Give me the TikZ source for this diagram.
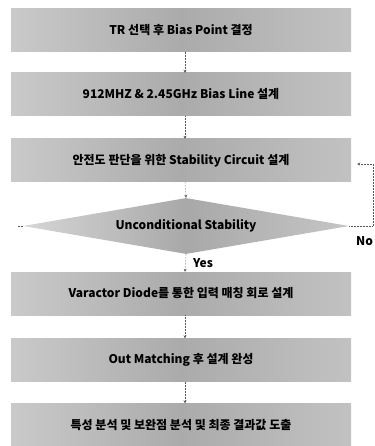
\documentclass[tikz,border=0pt]{standalone}
\usepackage{fontspec}
\setmainfont{Noto Sans CJK KR}
\usetikzlibrary{shapes.geometric,arrows.meta}
\begin{document}
\begin{tikzpicture}[x=1pt,y=-1pt,
  stepbox/.style={minimum width=340pt,minimum height=43pt,inner sep=0pt,
    left color=gray!42,right color=gray!48,middle color=gray!66,
    font=\fontsize{12}{14}\selectfont\bfseries},
  decision/.style={diamond,aspect=5.9,minimum width=326pt,minimum height=56pt,inner sep=0pt,
    left color=gray!32,right color=gray!45,middle color=gray!68,
    font=\fontsize{12}{14}\selectfont\bfseries},
  flow/.style={densely dotted,gray!70!black,line width=0.5pt,-{Stealth[length=3pt,width=3pt]}},
  lbl/.style={font=\fontsize{12}{14}\selectfont\bfseries,inner sep=0pt}]
\useasboundingbox (0,0) rectangle (374,446);
\node[stepbox] (b1) at (181,30) {TR 선택 후 Bias Point 결정};
\node[stepbox] (b2) at (181,94.5) {912MHZ \& 2.45GHz Bias Line 설계};
\node[stepbox] (b3) at (181,160.5) {안전도 판단을 위한 Stability Circuit 설계};
\node[decision] (d) at (186,226) {Unconditional Stability};
\node[stepbox] (b4) at (181,293.5) {Varactor Diode를 통한 입력 매칭 회로 설계};
\node[stepbox] (b5) at (181,360) {Out Matching 후 설계 완성};
\node[stepbox] (b6) at (181,425) {특성 분석 및 보완점 분석 및 최종 결과값 도출};
\coordinate (r1) at (373,226);
\coordinate (r2) at (373,164);
\coordinate (ll) at (18,226);
\draw[flow] ([xshift=4pt]b1.south) -- ([xshift=4pt]b2.north);
\draw[flow] ([xshift=4pt]b2.south) -- ([xshift=4pt]b3.north);
\draw[flow] ([xshift=4pt]b3.south) -- (d.north);
\draw[flow] (d.south) -- ([xshift=4pt]b4.north);
\draw[flow] ([xshift=4pt]b4.south) -- ([xshift=4pt]b5.north);
\draw[flow] ([xshift=4pt]b5.south) -- ([xshift=4pt]b6.north);
\draw[densely dotted,gray!70!black,line width=0.5pt] (d.west) -- (ll);
\draw[flow,shorten >=6pt] (d.east) -- (r1) -- (r2) -- (r2 -| b3.east);
\node[lbl,anchor=west] (yes) at (193,263) {Yes};
\node[lbl,anchor=west] (no) at (356,241) {No};
\end{tikzpicture}
\end{document}
